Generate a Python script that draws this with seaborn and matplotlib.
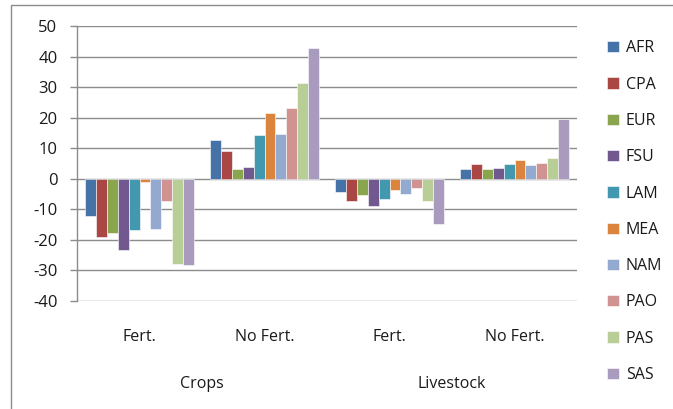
import matplotlib
matplotlib.use("Agg")
import matplotlib.pyplot as plt
import matplotlib.transforms as mtransforms
from matplotlib.patches import Rectangle
import seaborn as sns
import pandas as pd

regions = ["AFR", "CPA", "EUR", "FSU", "LAM", "MEA", "NAM", "PAO", "PAS", "SAS"]
categories = ["Crops|Fert.", "Crops|No Fert.", "Livestock|Fert.", "Livestock|No Fert."]
tick_labels = ["Fert.", "No Fert.", "Fert.", "No Fert."]
group_labels = ["Crops", "Livestock"]

crops_fert = [-12.1, -18.9, -17.9, -23.3, -16.6, -1.1, -16.3, -7.4, -27.8, -28.1]
crops_nofert = [12.7, 9.0, 3.2, 3.8, 14.3, 21.5, 14.6, 23.2, 31.4, 42.7]
live_fert = [-4.3, -7.4, -5.2, -9.0, -6.6, -3.7, -4.9, -3.1, -7.4, -14.8]
live_nofert = [3.2, 4.8, 3.2, 3.5, 4.8, 6.1, 4.5, 5.1, 6.7, 19.7]

colors = ["#4572A7", "#AA4643", "#89A54E", "#71588F", "#4198AF",
          "#DB843D", "#93A9CF", "#D19392", "#B9CD96", "#A99BBD"]

rows = []
for cat, vals in zip(categories, [crops_fert, crops_nofert, live_fert, live_nofert]):
    for r, v in zip(regions, vals):
        rows.append({"cat": cat, "region": r, "value": v})
df = pd.DataFrame(rows)

sns.set_theme(style="white")
plt.rcParams["font.family"] = ["Open Sans", "DejaVu Sans"]
plt.rcParams["axes.unicode_minus"] = False

fig = plt.figure(figsize=(6.73, 4.09), dpi=100)
ax = fig.add_axes([77 / 673, 1 - 301 / 409, 500 / 673, 275 / 409])

sns.barplot(data=df, x="cat", y="value", hue="region", order=categories,
            hue_order=regions, palette=colors, width=0.87, ax=ax,
            edgecolor="white", linewidth=0.4, saturation=1, errorbar=None)

ax.set_ylim(-40, 50)
ax.set_yticks(range(-40, 51, 10))
ax.set_xlim(-0.5, 3.5)
ax.yaxis.grid(True, color="#8c8c8c", linewidth=1.0)
ax.set_axisbelow(True)
for s in ["top", "right", "bottom"]:
    ax.spines[s].set_visible(False)
ax.spines["left"].set_color("#8c8c8c")
ax.spines["left"].set_linewidth(1.0)
ax.tick_params(axis="y", left=True, length=5, width=1.0, color="#8c8c8c",
               labelsize=12, labelcolor="#1a1a1a", pad=9)
ax.set_xticks(range(4))
ax.set_xticklabels(tick_labels)
ax.tick_params(axis="x", bottom=False, labelsize=11.5, labelcolor="#1a1a1a", pad=14)
ax.set_xlabel("")
ax.set_ylabel("")

trans = mtransforms.blended_transform_factory(ax.transData, fig.transFigure)
ax.text(0.5, 1 - 384 / 409, group_labels[0], transform=trans, ha="center",
        va="center", fontsize=11.5, color="#1a1a1a")
ax.text(2.5, 1 - 384 / 409, group_labels[1], transform=trans, ha="center",
        va="center", fontsize=11.5, color="#1a1a1a")

handles, labels = ax.get_legend_handles_labels()
ax.legend(handles, labels, loc="upper left", bbox_to_anchor=(601 / 673, 1 - 34 / 409),
          bbox_transform=fig.transFigure, frameon=False, fontsize=11.5,
          handlelength=0.7, handleheight=0.7, handletextpad=0.45, labelspacing=1.27,
          borderaxespad=0, labelcolor="#1a1a1a")

fig.patches.append(Rectangle((11 / 673, -0.05), 2, 1 - 5 / 409 + 0.05,
                             transform=fig.transFigure, fill=False,
                             edgecolor="#8c8c8c", linewidth=1.0))

fig.savefig("out.png", dpi=100)
